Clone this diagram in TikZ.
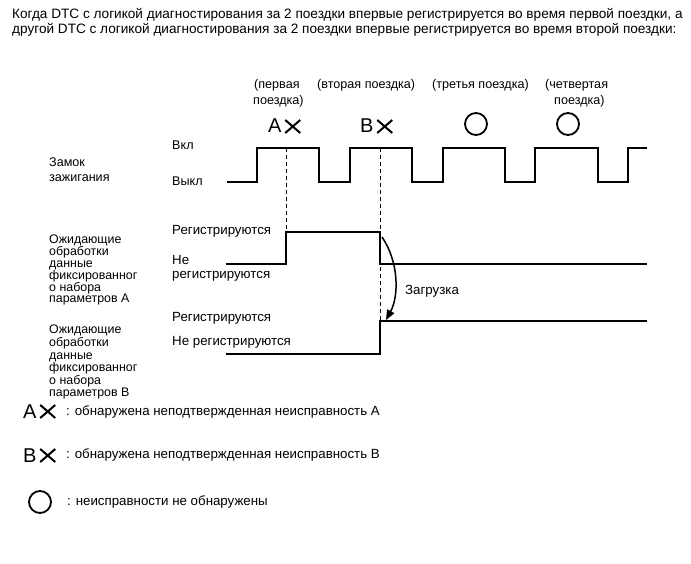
\documentclass[tikz,border=0pt]{standalone}
\usepackage{fontspec}
\setmainfont{Liberation Sans}
\usetikzlibrary{arrows.meta}

\newcommand{\crossafter}[1]{%
  \draw[xstroke] ([xshift=3.5pt]#1.base east) -- ++(15,-13)
                 ([xshift=3.5pt]#1.base east) ++(0,-13) -- ++(15,13);}

\begin{document}
\begin{tikzpicture}[x=1pt, y=-1pt, line cap=butt, line join=miter,
    txt/.style={anchor=west, inner sep=0pt, font=\fontsize{12.6}{12.6}\selectfont},
    bigtxt/.style={txt, font=\fontsize{13.3}{13.3}\selectfont},
    block/.style={anchor=north west, inner sep=0pt, align=left,
                  font=\fontsize{12.4}{11.8}\selectfont},
    wave/.style={line width=1.1pt},
    guide/.style={line width=0.8pt, dash pattern=on 4pt off 3pt},
    letter/.style={anchor=base west, inner sep=0pt, font=\fontsize{20}{20}\selectfont},
    xstroke/.style={line width=2pt},
    okmark/.style={circle, draw, line width=1.8pt, minimum size=22pt, inner sep=0pt}]

  \useasboundingbox (0,0) rectangle (691,564);

  %--------------------------
  % Heading
  %--------------------------
  \node[block, font=\fontsize{13.6}{15}\selectfont] (head) at (12,8)
    {Когда DTC с логикой диагностирования за 2 поездки впервые регистрируется во время первой поездки, а\\
     другой DTC с логикой диагностирования за 2 поездки впервые регистрируется во время второй поездки:};

  %--------------------------
  % Trips and results
  %--------------------------
  \node[txt] (trip1a) at (254,85) {(первая};
  \node[txt] (trip1b) at (253,101) {поездка)};
  \node[txt] (trip2) at (317,85) {(вторая поездка)};
  \node[txt] (trip3) at (432,85) {(третья поездка)};
  \node[txt] (trip4a) at (545,85) {(четвертая};
  \node[txt] (trip4b) at (554,101) {поездка)};

  \node[letter] (markA) at (268,133) {A};
  \crossafter{markA}
  \node[letter] (markB) at (360,133) {B};
  \crossafter{markB}
  \node[okmark] (ok3) at (476,124) {};
  \node[okmark] (ok4) at (568,124) {};

  %--------------------------
  % Ignition switch
  %--------------------------
  \node[txt] (ign1) at (49,162) {Замок};
  \node[txt] (ign2) at (49,178) {зажигания};
  \node[txt] (on) at (172,145) {Вкл};
  \node[txt] (off) at (172,181) {Выкл};

  \draw[wave] (227,182) -- (257,182) -- (257,148) -- (319,148) -- (319,182)
    -- (350,182) -- (350,148) -- (412,148) -- (412,182) -- (443,182)
    -- (443,148) -- (505,148) -- (505,182) -- (535,182) -- (535,148)
    -- (598,148) -- (598,182) -- (628,182) -- (628,148) -- (647,148);

  % Trip markers
  \draw[guide] (286,148) -- (286,232);
  \draw[guide] (380,148) -- (380,354);

  %--------------------------
  % Freeze frame A
  %--------------------------
  \node[block] (ffA) at (49,235)
    {Ожидающие\\обработки\\данные\\фиксированног\\о набора\\параметров A};
  \node[bigtxt] (regA) at (172,231) {Регистрируются};
  \node[bigtxt] (noA1) at (172,260) {Не};
  \node[bigtxt] (noA2) at (172,276) {регистрируются};

  \draw[wave] (226,264) -- (286,264) -- (286,232) -- (380,232) -- (380,264) -- (647,264);

  %--------------------------
  % Freeze frame B
  %--------------------------
  \node[block, font=\fontsize{12.4}{12.6}\selectfont] (ffB) at (49,325)
    {Ожидающие\\обработки\\данные\\фиксированног\\о набора\\параметров B};
  \node[bigtxt] (regB) at (172,318) {Регистрируются};
  \node[bigtxt] (noB) at (172,342) {Не регистрируются};

  \draw[wave] (226,354) -- (380,354) -- (380,321) -- (647,321);

  % Upload
  \coordinate (upFrom) at (382,237);
  \coordinate (upTo) at (386,320);
  \draw[line width=1.5pt, -{Triangle[length=10pt, width=8pt]}]
    (upFrom) .. controls (399,262) and (399,296) .. (upTo);
  \node[bigtxt] (upload) at (405,291) {Загрузка};

  %--------------------------
  % Legend
  %--------------------------
  \node[letter] (keyA) at (23,418) {A};
  \crossafter{keyA}
  \node[bigtxt] (keyAtxt) at (66,412) {: обнаружена неподтвержденная неисправность A};

  \node[letter] (keyB) at (23,462) {B};
  \crossafter{keyB}
  \node[bigtxt] (keyBtxt) at (66,455) {: обнаружена неподтвержденная неисправность B};

  \node[okmark] (keyO) at (40,502) {};
  \node[bigtxt] (keyOtxt) at (67,502) {: неисправности не обнаружены};

\end{tikzpicture}
\end{document}
